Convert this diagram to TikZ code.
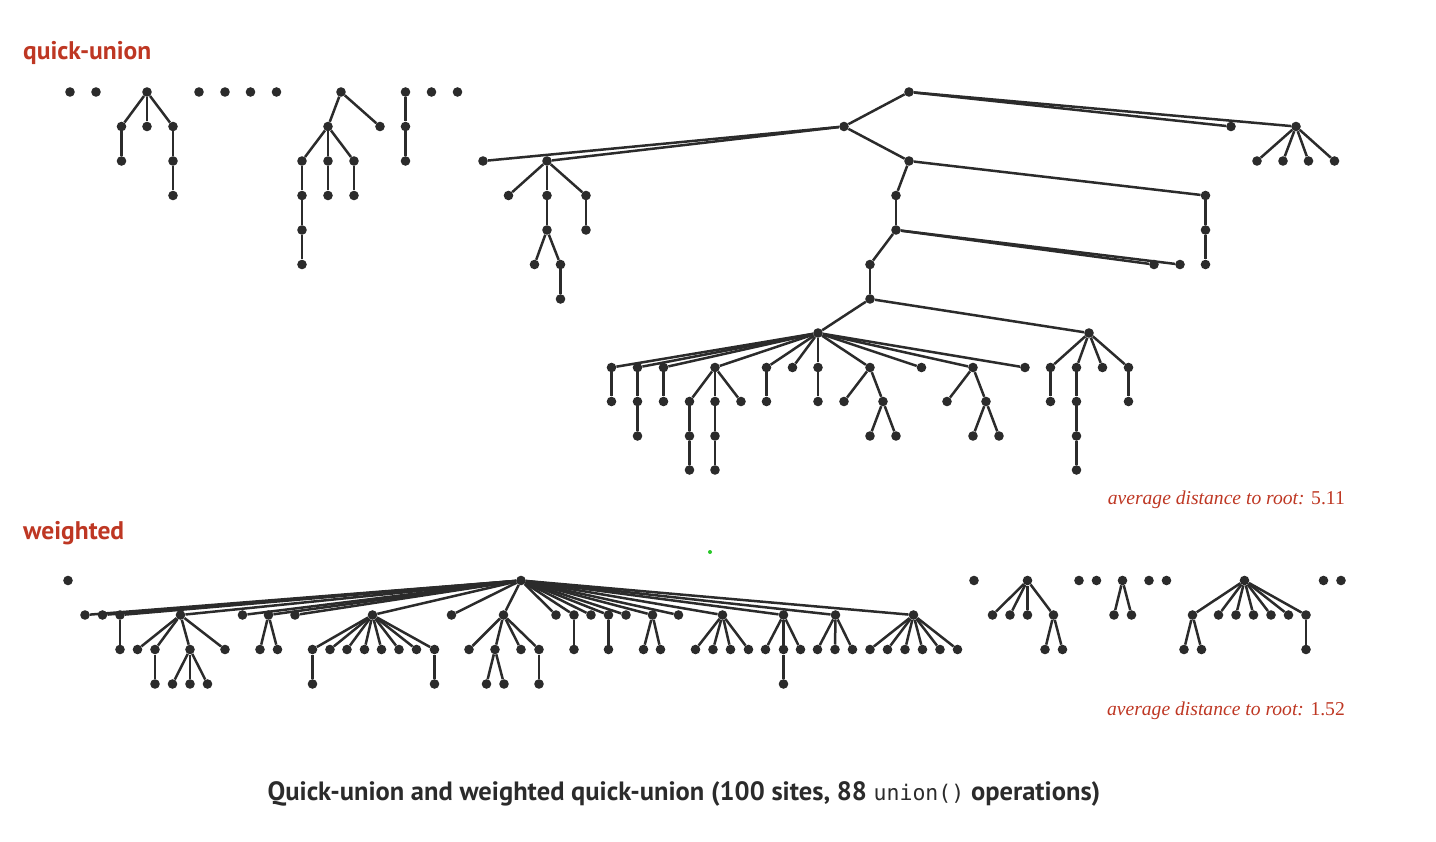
\documentclass[tikz,border=0pt]{standalone}
\usepackage{fontspec}
\setmainfont{Liberation Serif}
\newfontfamily\capfont{PT Sans}
\newfontfamily\monofont{DejaVu Sans Mono}
\definecolor{ink}{RGB}{43,43,43}
\definecolor{qred}{RGB}{190,55,35}
\definecolor{gdot}{RGB}{40,200,40}
\newcommand\kid[4]{\node[dot] (#2) at (#3,#4) {}; \draw[edge] (#1) -- (#2);}
\newcommand\kids[4]{\foreach \xx [count=\ii] in {#4} {\node[dot] (#2\ii) at (\xx,#3) {}; \draw[edge] (#1) -- (#2\ii);}}
\begin{document}
\begin{tikzpicture}[x=1pt,y=-1pt,
  dot/.style={circle,fill=ink,inner sep=0pt,minimum size=9.6pt},
  edge/.style={draw=ink,line width=2.5pt},
  lbl/.style={text=qred,font=\capfont\bfseries\fontsize{25.5}{30}\selectfont,anchor=west,inner sep=0pt},
  avg/.style={text=qred,font=\fontsize{19.6}{23}\selectfont,anchor=east,inner sep=0pt}]
\useasboundingbox (0,0) rectangle (1436,842);
% ---------- quick-union ----------
\foreach \xx [count=\ii] in {70,96,199,225,250.5,276.5,431.5,457.5} \node[dot] (q\ii) at (\xx,92) {};
\node[dot] (ta) at (147,92) {};
\kids{ta}{ta}{126.5}{121.5,147,173}
\kid{ta1}{ta1a}{121.5}{161}
\kid{ta3}{ta3a}{173}{161}
\kid{ta3a}{ta3b}{173}{195.5}
\node[dot] (tb) at (341,92) {};
\kids{tb}{tb}{126.5}{328,380}
\kids{tb1}{tbk}{161}{302,328,354}
\kid{tbk1}{tbk1a}{302}{195.5}
\kid{tbk1a}{tbk1b}{302}{230}
\kid{tbk1b}{tbk1c}{302}{264.5}
\kid{tbk2}{tbk2a}{328}{195.5}
\kid{tbk3}{tbk3a}{354}{195.5}
\node[dot] (tc) at (405.5,92) {};
\kid{tc}{tc1}{405.5}{126.5}
\kid{tc1}{tc2}{405.5}{161}
% big tree
\node[dot] (R) at (909,92) {};
\kids{R}{R}{126.5}{844,1231,1296}
\kids{R3}{Rf}{161}{1257,1283,1308.5,1334.5}
\kids{R1}{A}{161}{483,547,909}
\kids{A2}{Ak}{195.5}{508.5,547,586}
\kid{Ak3}{Ak3a}{586}{230}
\kid{Ak2}{Ak2a}{547}{230}
\kids{Ak2a}{Am}{264.5}{534.5,560.5}
\kid{Am2}{Am2a}{560.5}{299}
\kids{A3}{As}{195.5}{896,1205.5}
\kid{As2}{As2a}{1205.5}{230}
\kid{As2a}{As2b}{1205.5}{264.5}
\kid{As1}{As1a}{896}{230}
\kids{As1a}{B}{264.5}{870,1154,1180}
\kid{B1}{B1a}{870}{299}
\kids{B1a}{C}{333}{818,1089}
\kids{C1}{c}{367.5}{611.5,637.5,663.5,715,766.5,792.5,818,870,921.5,973,1025}
\kid{c1}{c1a}{611.5}{401.5}
\kid{c2}{c2a}{637.5}{401.5}
\kid{c2a}{c2b}{637.5}{436}
\kid{c3}{c3a}{663.5}{401.5}
\kids{c4}{ck}{401.5}{689.5,715,741}
\kid{ck1}{ck1a}{689.5}{436}
\kid{ck1a}{ck1b}{689.5}{470}
\kid{ck2}{ck2a}{715}{436}
\kid{ck2a}{ck2b}{715}{470}
\kid{c5}{c5a}{766.5}{401.5}
\kid{c7}{c7a}{818}{401.5}
\kids{c8}{cm}{401.5}{844,883}
\kids{cm2}{cn}{436}{870,896}
\kids{c10}{cp}{401.5}{947,986}
\kids{cp2}{cq}{436}{973,999}
\kids{C2}{d}{367.5}{1050.5,1076.5,1102.5,1128.5}
\kid{d1}{d1a}{1050.5}{401.5}
\kid{d2}{d2a}{1076.5}{401.5}
\kid{d2a}{d2b}{1076.5}{436}
\kid{d2b}{d2c}{1076.5}{470}
\kid{d4}{d4a}{1128.5}{401.5}
% ---------- weighted ----------
\node[dot] (w0) at (68,580.5) {};
\node[dot] (W) at (521,580.5) {};
\kids{W}{e}{615}{85,102.5,120,180.5,242.5,268.5,295,372.5,451.5,503.5,556,574,591,608.5,626,652.5,678.5,722.5,783.5,835.5,913.5}
\kid{e3}{e3a}{120}{649.5}
\kids{e4}{f}{649.5}{137.5,155,190,225}
\kid{f2}{f2a}{155}{684}
\kids{f3}{g}{684}{172.5,190,207.5}
\kids{e6}{h}{649.5}{260,277.5}
\kids{e8}{i}{649.5}{312.5,330,347,364.5,381.5,399,416.5,434.5}
\kid{i1}{i1a}{312.5}{684}
\kid{i8}{i8a}{434.5}{684}
\kids{e10}{j}{649.5}{469,495,521,539}
\kids{j2}{jj}{684}{486.5,504}
\kid{j4}{j4a}{539}{684}
\kid{e12}{e12a}{574}{649.5}
\kid{e14}{e14a}{608.5}{649.5}
\kids{e16}{k}{649.5}{643.5,660.5}
\kids{e18}{l}{649.5}{695.5,713,730.5,748.5}
\kids{e19}{m}{649.5}{765.5,783.5,800.5}
\kid{m2}{m2a}{783.5}{684}
\kids{e20}{n}{649.5}{817.5,835,852.5}
\kids{e21}{o}{649.5}{870,887.5,905,922.5,940,957.5}
\foreach \xx [count=\ii] in {974,1079,1096.5,1149,1166.5,1323.5,1341} \node[dot] (s\ii) at (\xx,580.5) {};
\node[dot] (F) at (1027.5,580.5) {};
\kids{F}{F}{615}{992.5,1010,1027.5,1053.5}
\kids{F4}{Fk}{649.5}{1045,1062.5}
\node[dot] (G) at (1122.5,580.5) {};
\kids{G}{G}{615}{1114,1131.5}
\node[dot] (H) at (1244.5,580.5) {};
\kids{H}{H}{615}{1192.5,1218.5,1236,1253.5,1271,1288.5,1306}
\kids{H1}{Hk}{649.5}{1184,1201.5}
\kid{H7}{H7a}{1306}{649.5}
\node[circle,fill=gdot,inner sep=0pt,minimum size=4pt] (gd) at (710,552) {};
% ---------- labels ----------
\node[lbl] (t1) at (23,53) {quick-union};
\node[lbl] (t2) at (23,533) {weighted};
\node[avg] (t3) at (1345,500) {\textit{average distance to root:} 5.11};
\node[avg] (t4) at (1345,711) {\textit{average distance to root:} 1.52};
\node[text=ink,font=\capfont\bfseries\fontsize{26.5}{31}\selectfont,inner sep=0pt] (cap) at (684,794)
  {Quick-union and weighted quick-union (100 sites, 88 {\monofont\mdseries\fontsize{21.5}{24}\selectfont union()} operations)};
\end{tikzpicture}
\end{document}
